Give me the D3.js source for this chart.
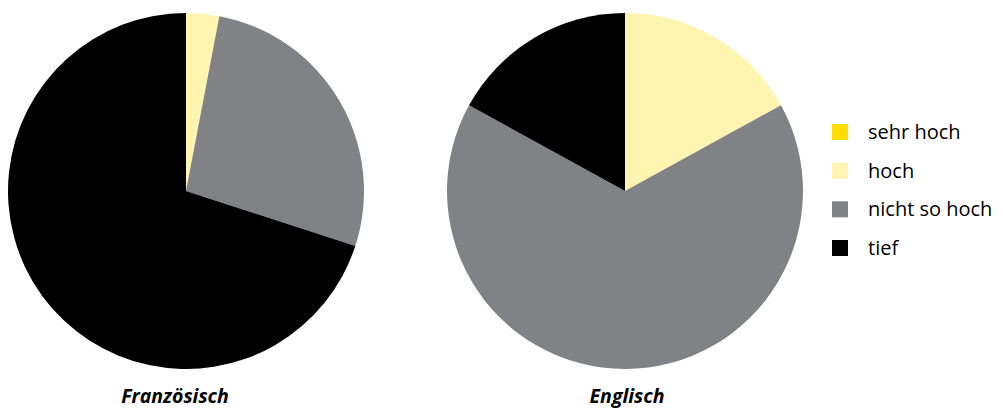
<!DOCTYPE html>
<html><head><meta charset="utf-8">
<script src="https://cdn.jsdelivr.net/npm/d3@7"></script>
<style>body{margin:0;background:#fff;} svg{display:block;}</style>
</head><body>
<svg id="chart" width="1003" height="410"></svg>
<script>
const categories = ["sehr hoch", "hoch", "nicht so hoch", "tief"];
const colors = ["#FFDD00", "#FFF4B0", "#808285", "#000000"];
const languages = ["Französisch", "Englisch"];
const francais = [0, 3, 27, 70];
const englisch = [0, 17, 66, 17];
const seriesList = [francais, englisch];

const svg = d3.select("#chart");
const color = d3.scaleOrdinal().domain(categories).range(colors);
const pie = d3.pie().sort(null).value(d => d.v);
const arc = d3.arc().innerRadius(0).outerRadius(178);

const centers = [[186, 191], [625, 191]];
const labelX = [175, 627];

seriesList.forEach((vals, i) => {
  const g = svg.append("g").attr("transform", `translate(${centers[i][0]},${centers[i][1]})`);
  const data = categories.map((c, j) => ({c, v: vals[j]}));
  g.selectAll("path").data(pie(data)).join("path")
    .attr("d", arc).attr("fill", d => color(d.data.c));
  svg.append("text").attr("x", labelX[i]).attr("y", 403)
    .attr("text-anchor", "middle")
    .attr("font-family", "Open Sans, sans-serif")
    .attr("font-size", 19.5).attr("font-weight", "bold").attr("font-style", "italic")
    .attr("fill", "#000").text(languages[i]);
});

const legend = svg.append("g");
const ly = d3.scalePoint().domain(categories).range([132, 248]);
categories.forEach(c => {
  legend.append("rect").attr("x", 832).attr("y", ly(c) - 8).attr("width", 16).attr("height", 16).attr("fill", color(c));
  legend.append("text").attr("x", 868).attr("y", ly(c)).attr("dy", "0.35em")
    .attr("font-family", "Open Sans, sans-serif").attr("font-size", 20).attr("fill", "#000").text(c);
});
</script>
</body></html>
